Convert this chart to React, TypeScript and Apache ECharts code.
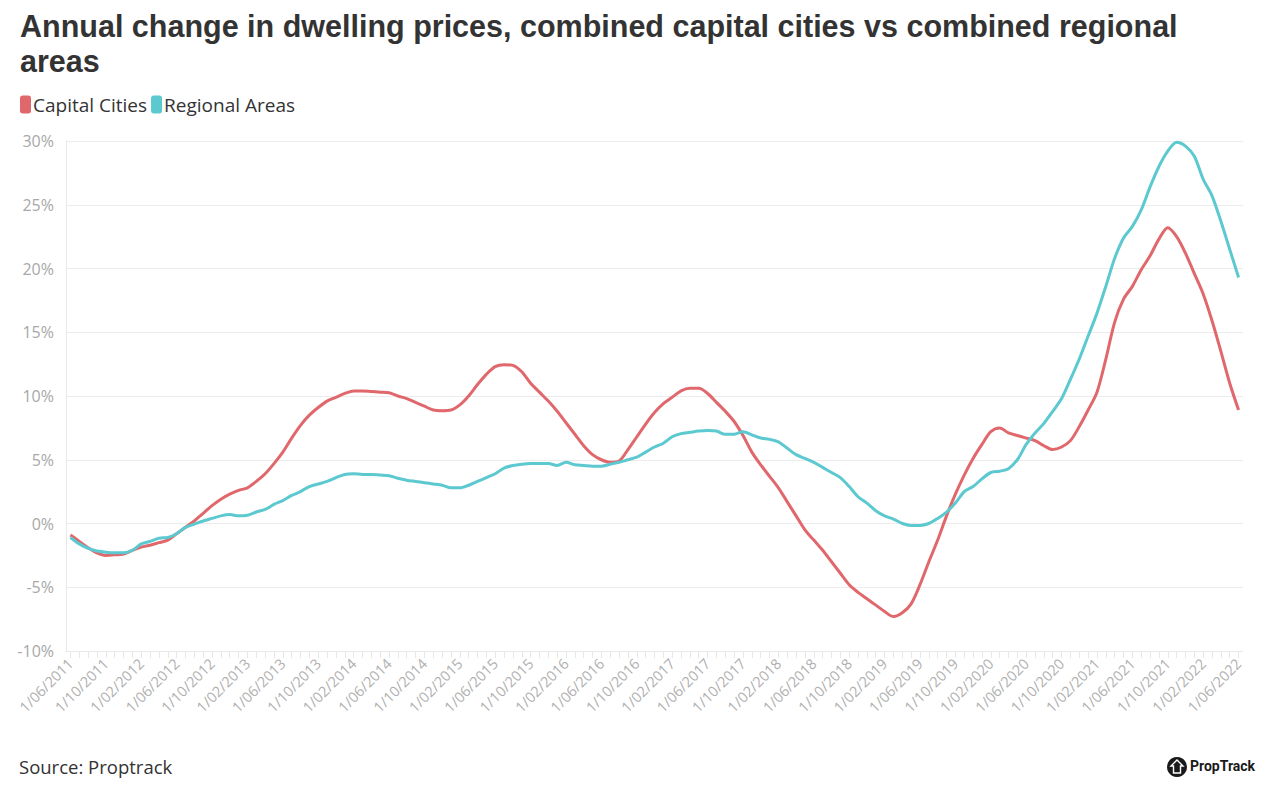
import React, { useEffect, useRef } from "react";
import * as echarts from "echarts";

const TITLE_LINE_1 = "Annual change in dwelling prices, combined capital cities vs combined regional";
const TITLE_LINE_2 = "areas";
const SERIES_NAMES = ["Capital Cities", "Regional Areas"];
const SOURCE_TEXT = "Source: Proptrack";

const START_YEAR = 2011;
const START_MONTH = 6;
const MONTH_COUNT = 133;

function buildCategories(): string[] {
  const out: string[] = [];
  for (let i = 0; i < MONTH_COUNT; i++) {
    const m = ((START_MONTH - 1 + i) % 12) + 1;
    const y = START_YEAR + Math.floor((START_MONTH - 1 + i) / 12);
    out.push(`1/${m < 10 ? "0" + m : m}/${y}`);
  }
  return out;
}
const categories = buildCategories();

const capitalCities = [
  -0.9, -1.4, -1.9, -2.3, -2.5, -2.45, -2.4, -2.1, -1.85, -1.7,
  -1.5, -1.3, -0.8, -0.3, 0.2, 0.8, 1.4, 1.9, 2.3, 2.6,
  2.8, 3.3, 3.9, 4.7, 5.6, 6.7, 7.7, 8.5, 9.1, 9.6,
  9.9, 10.2, 10.4, 10.4, 10.35, 10.3, 10.25, 10.0, 9.8, 9.5,
  9.2, 8.9, 8.85, 8.9, 9.3, 10.0, 10.9, 11.7, 12.3, 12.45,
  12.4, 11.9, 11.0, 10.3, 9.6, 8.8, 7.9, 7.0, 6.1, 5.4,
  5.0, 4.8, 4.9, 5.8, 6.8, 7.8, 8.7, 9.4, 9.9, 10.4,
  10.6, 10.6, 10.2, 9.5, 8.8, 8.0, 6.9, 5.6, 4.6, 3.7,
  2.8, 1.7, 0.6, -0.5, -1.3, -2.1, -3.0, -3.9, -4.8, -5.4,
  -5.9, -6.4, -6.9, -7.3, -7.0, -6.3, -4.8, -3.0, -1.3, 0.6,
  2.3, 3.8, 5.1, 6.2, 7.2, 7.5, 7.1, 6.9, 6.7, 6.5,
  6.1, 5.8, 6.0, 6.5, 7.6, 8.9, 10.3, 12.9, 15.8, 17.6,
  18.6, 19.9, 21.0, 22.3, 23.2, 22.5, 21.2, 19.6, 18.0, 15.9,
  13.5, 11.0, 8.9,
];

const regionalAreas = [
  -1.1, -1.6, -1.95, -2.15, -2.25, -2.3, -2.3, -2.1, -1.6, -1.4,
  -1.15, -1.1, -0.8, -0.3, -0.05, 0.2, 0.4, 0.6, 0.7, 0.6,
  0.65, 0.9, 1.1, 1.5, 1.8, 2.2, 2.5, 2.9, 3.1, 3.3,
  3.6, 3.85, 3.9, 3.85, 3.85, 3.8, 3.75, 3.55, 3.4, 3.3,
  3.2, 3.1, 3.0, 2.8, 2.8, 3.0, 3.3, 3.6, 3.9, 4.35,
  4.55, 4.65, 4.7, 4.7, 4.7, 4.55, 4.8, 4.6, 4.55, 4.5,
  4.5, 4.65, 4.8, 5.0, 5.2, 5.6, 6.0, 6.3, 6.8, 7.05,
  7.15, 7.25, 7.3, 7.25, 7.0, 7.0, 7.2, 6.95, 6.7, 6.6,
  6.4, 5.9, 5.4, 5.1, 4.8, 4.4, 4.0, 3.6, 2.9, 2.1,
  1.6, 1.0, 0.6, 0.35, 0.0, -0.15, -0.15, 0.0, 0.4, 0.9,
  1.6, 2.5, 2.9, 3.5, 4.0, 4.1, 4.3, 5.0, 6.2, 7.1,
  7.85, 8.8, 9.8, 11.3, 12.9, 14.7, 16.5, 18.6, 20.8, 22.4,
  23.3, 24.6, 26.4, 28.0, 29.2, 29.9, 29.6, 28.8, 27.0, 25.7,
  23.7, 21.5, 19.3,
];

const Y_MIN = -10;
const Y_MAX = 30;
const Y_STEP = 5;

const COLORS = ["#E0686C", "#5CC8CF"];
const FONT = "'Open Sans', 'Noto Sans', sans-serif";
const TITLE_FONT = "'Liberation Sans', Arial, sans-serif";

const titleStyle = {
  fontFamily: TITLE_FONT,
  fontSize: 30.5,
  fontWeight: "bold",
  color: "#333333",
  lineHeight: 34,
};

export default function App() {
  const ref = useRef<HTMLDivElement>(null);
  useEffect(() => {
    if (!ref.current) return;
    const chart = echarts.init(ref.current, undefined, { renderer: "svg" });
    chart.setOption({
      animation: false,
      backgroundColor: "#ffffff",
      textStyle: { fontFamily: FONT },
      title: [
        { text: TITLE_LINE_1, left: 20, top: 9, padding: 0, textStyle: titleStyle },
        { text: TITLE_LINE_2, left: 20, top: 44, padding: 0, textStyle: titleStyle },
      ],
      legend: {
        left: 15,
        top: 90,
        itemWidth: 11,
        itemHeight: 18,
        itemGap: 4,
        icon: "roundRect",
        textStyle: { fontFamily: FONT, fontSize: 19, color: "#333333", padding: [0, 0, 0, -3] },
        data: SERIES_NAMES,
      },
      grid: { left: 66, right: 36, top: 141, bottom: 155, containLabel: false },
      xAxis: {
        type: "category",
        data: categories,
        boundaryGap: true,
        axisLine: { show: true, onZero: false, lineStyle: { color: "#e8e8e8", width: 1 } },
        axisTick: { show: true, interval: 0, alignWithLabel: true, length: 7, lineStyle: { color: "#e8e8e8" } },
        axisLabel: {
          interval: 3,
          rotate: 45,
          color: "#b0b0b0",
          fontSize: 14.5,
          fontFamily: FONT,
          margin: 10,
        },
        splitLine: { show: false },
      },
      yAxis: {
        type: "value",
        min: Y_MIN,
        max: Y_MAX,
        interval: Y_STEP,
        axisLine: { show: true, lineStyle: { color: "#e8e8e8" } },
        axisTick: { show: false },
        axisLabel: {
          formatter: "{value}%",
          color: "#a8a8a8",
          fontSize: 16,
          fontFamily: FONT,
          margin: 12,
        },
        splitLine: { show: true, lineStyle: { color: "#ececec", width: 1 } },
      },
      series: [
        {
          name: SERIES_NAMES[0],
          type: "line",
          data: capitalCities,
          symbol: "none",
          smooth: 0.3,
          lineStyle: { color: COLORS[0], width: 3 },
          itemStyle: { color: COLORS[0] },
        },
        {
          name: SERIES_NAMES[1],
          type: "line",
          data: regionalAreas,
          symbol: "none",
          smooth: 0.3,
          lineStyle: { color: COLORS[1], width: 3 },
          itemStyle: { color: COLORS[1] },
        },
      ],
      graphic: [
        {
          type: "text",
          left: 19,
          top: 757,
          style: { text: SOURCE_TEXT, fontFamily: FONT, fontSize: 18.5, fill: "#333333" },
        },
        {
          type: "circle",
          shape: { cx: 1177, cy: 767, r: 10 },
          style: { fill: "#1a1a1a" },
        },
        {
          type: "polygon",
          shape: {
            points: [
              [1177, 760],
              [1183, 766],
              [1180.5, 766],
              [1180.5, 773],
              [1173.5, 773],
              [1173.5, 766],
              [1171, 766],
            ],
          },
          style: { fill: "none", stroke: "#ffffff", lineWidth: 1.4 },
        },
        {
          type: "text",
          left: 1190,
          top: 759,
          style: { text: "PropTrack", fontFamily: "'Liberation Sans Narrow', 'Roboto', sans-serif", fontSize: 14, fontWeight: "bold", fill: "#1a1a1a" },
        },
      ],
    });
    return () => chart.dispose();
  }, []);
  return (
    <div
      ref={ref}
      style={{ position: "fixed", left: 0, top: 0, width: 1279, height: 806 }}
    />
  );
}
